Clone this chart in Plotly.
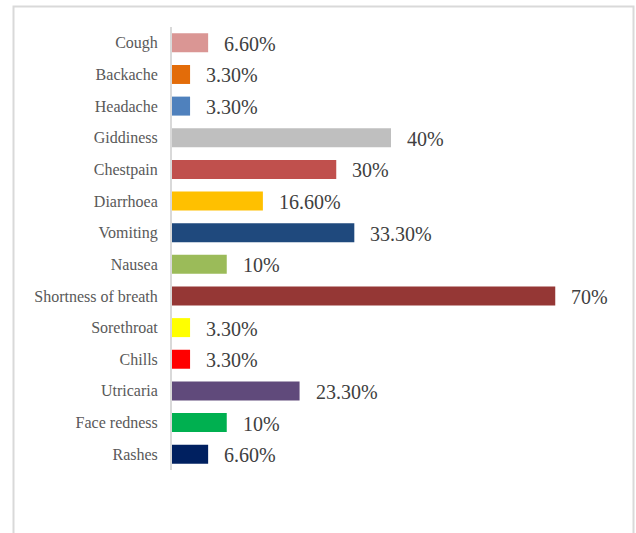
import plotly.graph_objects as go

symptoms = ["Cough", "Backache", "Headache", "Giddiness", "Chestpain", "Diarrhoea",
            "Vomiting", "Nausea", "Shortness of breath", "Sorethroat", "Chills",
            "Utricaria", "Face redness", "Rashes"]
percent = [6.6, 3.3, 3.3, 40, 30, 16.6, 33.3, 10, 70, 3.3, 3.3, 23.3, 10, 6.6]
value_labels = ["6.60%", "3.30%", "3.30%", "40%", "30%", "16.60%", "33.30%", "10%",
                "70%", "3.30%", "3.30%", "23.30%", "10%", "6.60%"]
bar_colors = ["#DA9694", "#E36C09", "#4F81BD", "#BFBFBF", "#C0504D", "#FFC000",
              "#1F497D", "#9BBB59", "#953735", "#FFFF00", "#FF0000", "#604A7B",
              "#00B050", "#002060"]

FONT = "'Liberation Serif', 'Times New Roman', Times, serif"
W, H = 636, 533
L, R, T, B = 172, 26, 27, 63
pw = W - L - R
ph = H - T - B

fig = go.Figure()
fig.add_trace(go.Bar(
    y=symptoms, x=percent, orientation="h",
    marker=dict(color=bar_colors, line=dict(width=0)),
    width=0.6, hoverinfo="skip",
))

for s, v, lab in zip(symptoms, percent, value_labels):
    fig.add_annotation(x=v, y=s, text=lab, showarrow=False, xanchor="left",
                       yanchor="middle", xshift=14, yshift=-1,
                       font=dict(family=FONT, size=20, color="#404040"))

def px_x(p):
    return (p - L) / pw

def px_y(p):
    return (H - B - p) / ph

fig.add_shape(type="rect", xref="paper", yref="paper",
              x0=px_x(13.5), x1=px_x(633.5), y0=px_y(560), y1=px_y(6.5),
              line=dict(color="#D9D9D9", width=2), fillcolor="rgba(0,0,0,0)", layer="below")

fig.update_layout(
    width=W, height=H,
    margin=dict(l=L, r=R, t=T, b=B, pad=0),
    paper_bgcolor="white", plot_bgcolor="white",
    showlegend=False,
    font=dict(family=FONT),
    xaxis=dict(range=[0, 80], visible=False, fixedrange=True),
    yaxis=dict(autorange="reversed", showline=True, linecolor="#D9D9D9", linewidth=2,
               showgrid=False, zeroline=False, ticks="", ticklabelstandoff=9,
               tickfont=dict(family=FONT, size=16, color="#595959")),
)

fig.write_html("out.html")
